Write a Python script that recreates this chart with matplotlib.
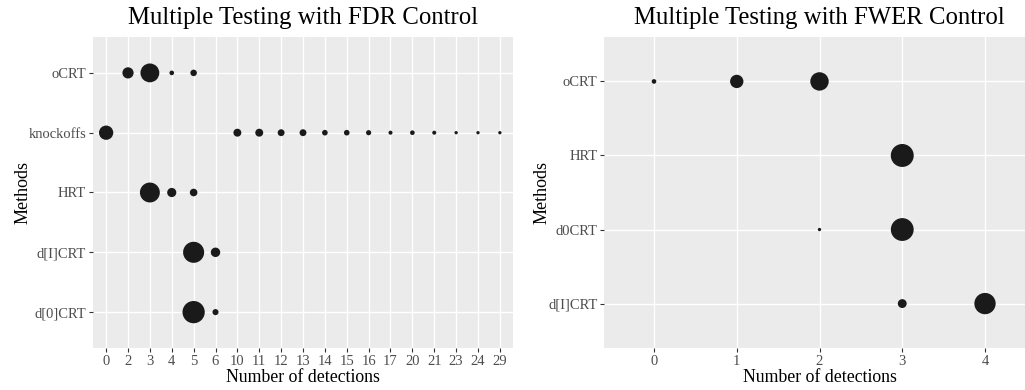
import numpy as np
import matplotlib
matplotlib.use("Agg")
import matplotlib.pyplot as plt

plt.rcParams['font.family'] = ['Liberation Serif', 'DejaVu Serif']

# ---- FDR panel (x is categorical) ----
fdr_methods = ["oCRT", "knockoffs", "HRT", "d[I]CRT", "d[0]CRT"]
fdr_levels = ["0", "2", "3", "4", "5", "6", "10", "11", "12", "13", "14", "15",
              "16", "17", "20", "21", "23", "24", "29"]
# (method, detections, count out of 100)
fdr_method = ["oCRT"] * 4 + ["knockoffs"] * 14 + ["HRT"] * 3 + ["d[I]CRT"] * 2 + ["d[0]CRT"] * 2
fdr_detect = ["2", "3", "4", "5",
              "0", "10", "11", "12", "13", "14", "15", "16", "17", "20", "21", "23", "24", "29",
              "3", "4", "5",
              "5", "6",
              "5", "6"]
fdr_count = [23, 67, 3, 7,
             38, 11, 11, 8, 8, 5, 5, 4, 2, 3, 2, 1, 1, 1,
             75, 15, 10,
             84, 16,
             94, 6]

# ---- FWER panel (x is numeric) ----
fwer_methods = ["oCRT", "HRT", "d0CRT", "d[I]CRT"]
fwer_method = ["oCRT", "oCRT", "oCRT", "HRT", "d0CRT", "d0CRT", "d[I]CRT", "d[I]CRT"]
fwer_detect = [0, 1, 2, 3, 2, 3, 3, 4]
fwer_count = [3, 33, 64, 100, 1, 99, 14, 86]

fwer_ticks = [0, 1, 2, 3, 4]


def size(c):
    return 2.7 * np.asarray(c) + 3


def style(ax):
    ax.set_facecolor("#EBEBEB")
    ax.grid(True, color="white", linewidth=1.0)
    ax.set_axisbelow(True)
    for s in ax.spines.values():
        s.set_visible(False)
    ax.tick_params(axis="both", length=3, color="#333333", labelcolor="#4D4D4D",
                   labelsize=10.5, width=0.8, pad=2)


fig = plt.figure(figsize=(10.25, 3.9), dpi=100)

ax1 = fig.add_axes([93 / 1025, 42 / 390, 420 / 1025, 311 / 390])
style(ax1)
xpos = [fdr_levels.index(d) for d in fdr_detect]
ypos = [len(fdr_methods) - 1 - fdr_methods.index(m) for m in fdr_method]
ax1.scatter(xpos, ypos, s=size(fdr_count), color="#1A1A1A", linewidths=0, zorder=3)
ax1.set_xticks(range(len(fdr_levels)))
ax1.set_xticklabels(fdr_levels)
ax1.set_yticks(range(len(fdr_methods)))
ax1.set_yticklabels(fdr_methods[::-1])
ax1.set_xlim(-0.6, len(fdr_levels) - 1 + 0.6)
ax1.set_ylim(-0.6, len(fdr_methods) - 1 + 0.6)
ax1.set_xlabel("Number of detections", fontsize=12.8, labelpad=1)
ax1.set_ylabel("Methods", fontsize=13, labelpad=-2)
ax1.set_title("Multiple Testing with FDR Control", fontsize=17.8, pad=9)

ax2 = fig.add_axes([604.35 / 1025, 42 / 390, 430.3 / 1025, 311 / 390])
style(ax2)
ypos2 = [len(fwer_methods) - 1 - fwer_methods.index(m) for m in fwer_method]
ax2.scatter(fwer_detect, ypos2, s=size(fwer_count), color="#1A1A1A", linewidths=0, zorder=3)
ax2.set_xticks(fwer_ticks)
ax2.set_yticks(range(len(fwer_methods)))
ax2.set_yticklabels(fwer_methods[::-1])
ax2.set_xlim(-0.6, 4.6)
ax2.set_ylim(-0.6, len(fwer_methods) - 1 + 0.6)
ax2.set_xlabel("Number of detections", fontsize=12.8, labelpad=1)
ax2.set_ylabel("Methods", fontsize=13, labelpad=-2)
ax2.set_title("Multiple Testing with FWER Control", fontsize=17.8, pad=9)

fig.savefig("out.png", dpi=100)
